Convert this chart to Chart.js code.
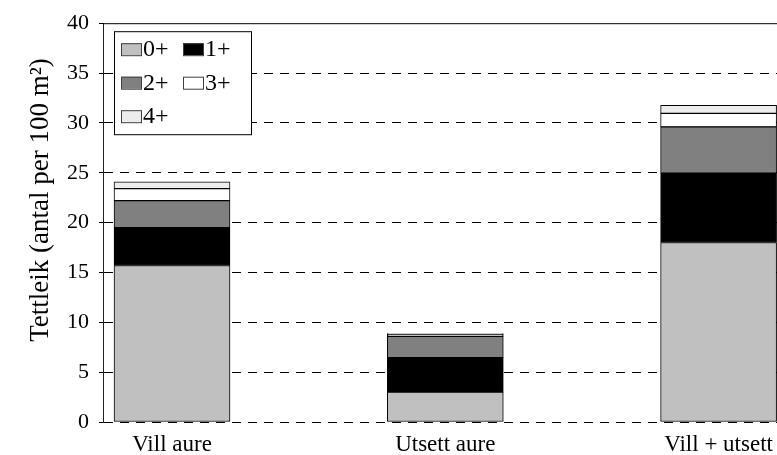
<!DOCTYPE html>
<html>
<head>
<meta charset="utf-8">
<script src="https://cdn.jsdelivr.net/npm/chart.js@4.4.1/dist/chart.umd.min.js"></script>
<style>
  html, body { margin: 0; padding: 0; background: #ffffff; overflow: hidden; }
  #wrap { position: relative; width: 777px; height: 455px; }
</style>
</head>
<body>
<div id="wrap"><canvas id="densityChart"></canvas></div>
<script>
const categories = ["Vill aure", "Utsett aure", "Vill + utsett"];
const ageGroups = ["0+", "1+", "2+", "3+", "4+"];

const age0 = [15.7, 3.0, 18.0];
const age1 = [3.8, 3.45, 6.95];
const age2 = [2.7, 2.15, 4.65];
const age3 = [1.2, 0.22, 1.35];
const age4 = [0.7, 0.06, 0.8];

const yTicks = [0, 5, 10, 15, 20, 25, 30, 35, 40];
const yTitle = "Tettleik (antal per 100 m²)";

const groupColors = ["#c0c0c0", "#000000", "#808080", "#ffffff", "#ececec"];
const serif = "'Liberation Serif', 'DejaVu Serif', serif";

function toPoints(values) {
  return values.map(function (v, i) {
    return { x: i, y: v };
  });
}

const allValues = [age0, age1, age2, age3, age4];

let datasets = [];
for (let i = 0; i < ageGroups.length; i++) {
  datasets.push({
    label: ageGroups[i],
    data: toPoints(allValues[i]),
    backgroundColor: groupColors[i],
    borderColor: "#000000",
    borderWidth: 1,
    borderSkipped: false,
    barThickness: 116,
  });
}

// legend box, top frame line and the rotated axis title
const boxLegend = {
  id: "boxLegend",
  afterDraw(chart) {
    const ctx = chart.ctx;
    const area = chart.chartArea;

    ctx.save();
    ctx.strokeStyle = "#000000";
    ctx.lineWidth = 1;
    ctx.beginPath();
    ctx.moveTo(area.left, area.top + 0.5);
    ctx.lineTo(area.right, area.top + 0.5);
    ctx.stroke();

    // axis title
    ctx.save();
    ctx.translate(41, 200);
    ctx.rotate(-Math.PI / 2);
    ctx.font = "27px " + serif;
    ctx.fillStyle = "#000000";
    ctx.textAlign = "center";
    ctx.textBaseline = "middle";
    ctx.fillText(yTitle, 0, 0);
    ctx.restore();

    const bx = area.left + 11;
    const by = area.top + 8;
    ctx.fillStyle = "#ffffff";
    ctx.fillRect(bx, by, 137, 103);
    ctx.strokeStyle = "#000000";
    ctx.strokeRect(bx + 0.5, by + 0.5, 137, 103);

    ctx.font = "24px " + serif;
    ctx.textBaseline = "middle";
    ctx.textAlign = "left";

    chart.data.datasets.forEach(function (ds, i) {
      const col = i % 2;
      const row = Math.floor(i / 2);
      const sx = bx + 7 + col * 62;
      const sy = by + 12 + row * 33.5;
      ctx.fillStyle = ds.backgroundColor;
      ctx.fillRect(sx, sy, 20, 12);
      ctx.strokeStyle = "#404040";
      ctx.strokeRect(sx + 0.5, sy + 0.5, 20, 12);
      ctx.fillStyle = "#000000";
      ctx.fillText(ds.label, sx + 22, sy + 7);
    });
    ctx.restore();
  },
};

new Chart(document.getElementById("densityChart"), {
  type: "bar",
  data: { datasets: datasets },
  plugins: [boxLegend],
  options: {
    responsive: true,
    maintainAspectRatio: false,
    animation: false,
    layout: { padding: { top: 22, right: 0, bottom: 0, left: 0 } },
    plugins: {
      legend: { display: false },
      tooltip: { enabled: false },
    },
    scales: {
      x: {
        type: "linear",
        stacked: true,
        offset: false,
        min: -0.2525,
        max: 2.2137,
        afterBuildTicks(axis) {
          axis.ticks = categories.map(function (c, i) {
            return { value: i };
          });
        },
        afterFit(axis) {
          axis.height = 33;
          axis.paddingLeft = 0;
          axis.paddingRight = 0;
        },
        grid: { display: false, drawTicks: false, offset: false },
        border: { display: false },
        ticks: {
          padding: 9,
          maxRotation: 0,
          color: "#000000",
          font: { family: serif, size: 23 },
          callback: function (v) {
            return categories[v];
          },
        },
      },
      y: {
        stacked: true,
        min: yTicks[0],
        max: yTicks[yTicks.length - 1],
        afterBuildTicks(axis) {
          axis.ticks = yTicks.map(function (t) {
            return { value: t };
          });
        },
        afterFit(axis) {
          axis.width = 103;
        },
        grid: {
          color: function (c) {
            return c.tick && c.tick.value === 40 ? "rgba(0,0,0,0)" : "#000000";
          },
          lineWidth: 1,
          tickColor: "#000000",
          tickLength: 4,
        },
        border: { display: true, color: "#222222", width: 1, dash: [9, 7] },
        ticks: {
          padding: 10,
          color: "#000000",
          font: { family: serif, size: 22 },
        },
      },
    },
  },
});
</script>
</body>
</html>
